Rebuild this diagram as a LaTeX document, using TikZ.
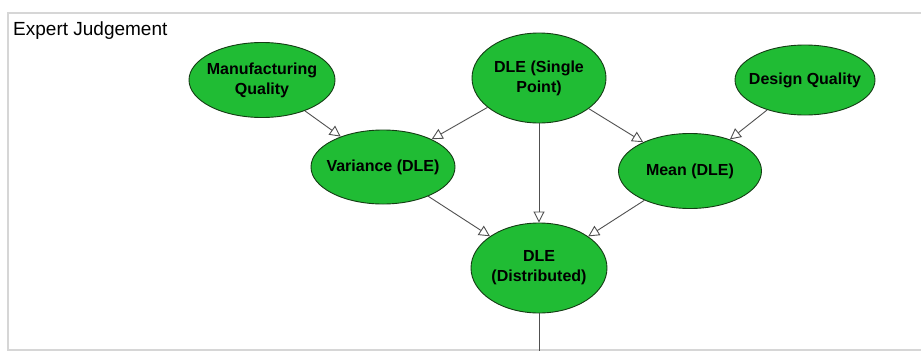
\documentclass[tikz,border=0pt]{standalone}
\usepackage{fontspec}
\setmainfont{Liberation Sans}
\usetikzlibrary{arrows.meta,shapes.geometric}
\definecolor{nodegreen}{RGB}{32,188,52}
\definecolor{nodeedge}{RGB}{20,60,20}
\definecolor{framegray}{RGB}{214,214,214}
\definecolor{linkgray}{RGB}{80,80,80}
\begin{document}
\begin{tikzpicture}[x=1pt,y=-1pt,
  varnode/.style={ellipse, draw=nodeedge, line width=0.9pt, fill=nodegreen,
    inner xsep=-20pt, inner ysep=-8pt, align=center,
    font=\fontsize{16}{20}\selectfont\bfseries},
  link/.style={draw=linkgray, line width=0.9pt,
    -{Triangle[open, length=11pt, width=11pt, line width=0.9pt]}},
  plain/.style={draw=linkgray, line width=0.9pt}]
  \useasboundingbox (0,0) rectangle (921,351);
  \fill[white] (0,0) rectangle (921,351);
  % panel frame
  \draw[framegray, line width=1.5pt] (921,13) -- (8,13) -- (8,350) -- (921,350);
  \node[anchor=west, inner sep=0pt, font=\fontsize{19}{22}\selectfont] (title) at (13,31) {Expert Judgement};

  % variables
  \node[varnode, minimum width=146pt, minimum height=75pt] (mfg) at (262,80) {Manufacturing\\Quality};
  \node[varnode, minimum width=134pt, minimum height=90pt] (single) at (539,78) {DLE (Single\\Point)};
  \node[varnode, minimum width=140pt, minimum height=70pt] (design) at (805,80) {Design Quality};
  \node[varnode, minimum width=144pt, minimum height=74pt] (var) at (383,167) {Variance (DLE)};
  \node[varnode, minimum width=143pt, minimum height=75pt] (mean) at (690,171) {Mean (DLE)};
  \node[varnode, minimum width=136pt, minimum height=90pt] (dist) at (539,268) {DLE\\(Distributed)};
  \coordinate (out) at (539,351);

  % dependencies
  \draw[link] (mfg) -- (var);
  \draw[link] (single) -- (var);
  \draw[link] (single) -- (dist);
  \draw[link] (single) -- (mean);
  \draw[link] (design) -- (mean);
  \draw[link] (var) -- (dist);
  \draw[link] (mean) -- (dist);
  \draw[plain] (dist) -- (out);
\end{tikzpicture}
\end{document}
